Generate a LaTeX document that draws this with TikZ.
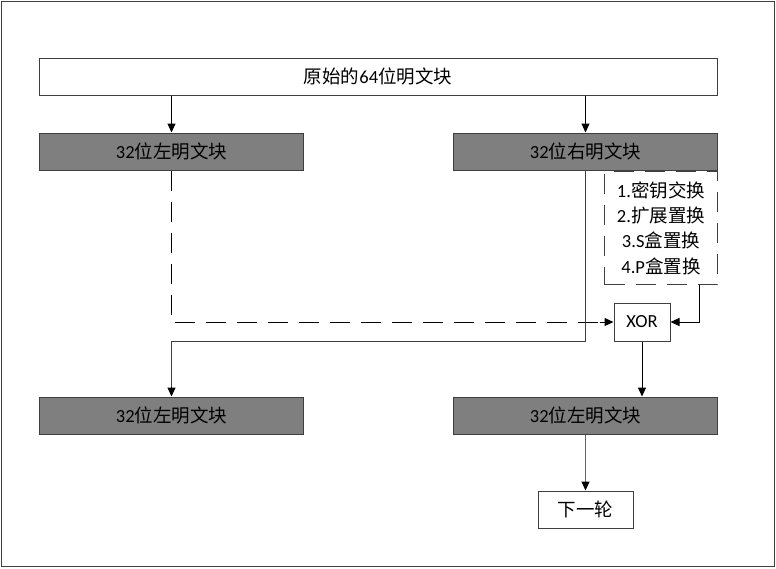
\documentclass[tikz,border=0pt]{standalone}
\usepackage{fontspec}
\setmainfont{Carlito}
\newfontfamily\cjk{Noto Sans CJK SC}
\newcommand\zh[1]{{\cjk #1}}
\usetikzlibrary{arrows.meta,calc}
\definecolor{boxgray}{HTML}{7F7F7F}
\definecolor{edge}{HTML}{3F3F3F}
\tikzset{
  every node/.style={font=\fontsize{18.5}{21}\selectfont, inner sep=0pt},
  plainbox/.style={draw=edge, line width=1pt, fill=white},
  graybox/.style={draw=edge, line width=1pt, fill=boxgray, minimum width=264pt, minimum height=37pt},
  arr/.style={line width=1pt, -{Triangle[length=9pt,width=8pt]}},
  dashline/.style={line width=1pt, dash pattern=on 20pt off 11pt},
}
\begin{document}
\begin{tikzpicture}[x=1pt,y=-1pt]
\useasboundingbox (0,0) rectangle (776,568);
\draw[edge, line width=1pt] (1.5,1.5) rectangle (774.5,566.5);

\node[plainbox, minimum width=678pt, minimum height=37pt] (top) at (378,76.5) {\zh{原始的}64\zh{位明文块}};
\node[graybox] (L1) at (171.5,151.5) {32\zh{位左明文块}};
\node[graybox] (R1) at (585.5,151.5) {32\zh{位右明文块}};
\node[draw=edge, dashline, minimum width=113pt, minimum height=113pt] (dbox) at (661,228) {};
\node[align=center, font=\fontsize{18.5}{25.3}\selectfont] (steps) at (661,228) {1.\zh{密钥交换}\\2.\zh{扩展置换}\\3.S\zh{盒置换}\\4.P\zh{盒置换}};
\coordinate (dq) at (699,284.5);
\node[plainbox, minimum width=56pt, minimum height=38pt] (xor) at (642,322) {XOR};
\node[graybox] (L2) at (171.5,415.5) {32\zh{位左明文块}};
\node[graybox] (R2) at (585.5,415.5) {32\zh{位左明文块}};
\node[plainbox, minimum width=95pt, minimum height=37pt] (next) at (585.5,509.5) {\zh{下一轮}};

\draw[arr] (L1.north |- top.south) -- (L1.north);
\draw[arr] (R1.north |- top.south) -- (R1.north);
\draw[dashline] (L1.south) |- ($(xor.west)+(-14,0)$) coordinate (dl);
\draw[arr] (dl) -- (xor.west);
\draw[arr] (dq) |- (xor.east);
\draw[line width=1pt, edge] (R1.south) -- (R1.south |- xor.south) -| ($(L2.north)+(0,-10)$) coordinate (l2a);
\draw[arr] (l2a) -- (L2.north);
\draw[arr] (xor.south) -- (xor.south |- R2.north);
\draw[line width=1pt, draw=edge!80] (R2.south) -- ($(next.north)+(0,-9)$) coordinate (na);
\draw[arr] (na) -- (next.north);
\end{tikzpicture}
\end{document}
